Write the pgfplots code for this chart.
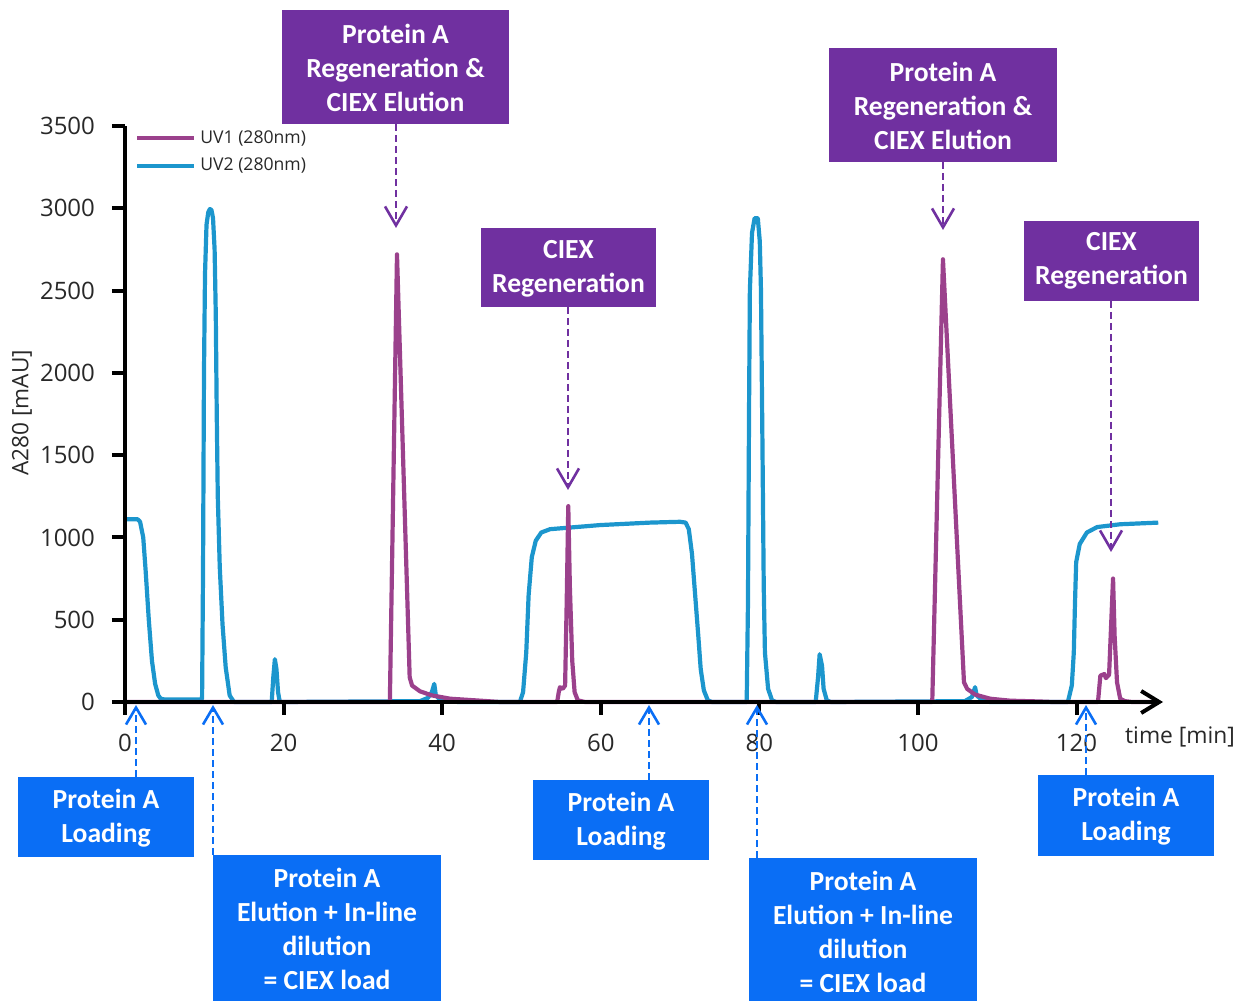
\documentclass[border=0pt]{standalone}
\usepackage{pgfplots}
\pgfplotsset{compat=1.18}
\usepackage{fontspec}
\setmainfont{Open Sans}
\newfontfamily\boxfont{Carlito}
\usetikzlibrary{arrows.meta}
\definecolor{uvone}{RGB}{155,65,140}
\definecolor{uvtwo}{RGB}{28,150,205}
\definecolor{pbox}{RGB}{112,48,160}
\definecolor{bbox}{RGB}{10,110,245}
\definecolor{txt}{RGB}{40,40,40}

\pgfplotstableread{
t v
0 1110
1.6 1110
1.9 1095
2.3 1000
2.6 800
3.0 500
3.4 250
3.8 110
4.2 40
4.5 20
5.0 15
9.6 15
9.72 20
9.84 800
9.96 2000
10.09 2600
10.28 2900
10.5 2975
10.7 2995
10.9 2990
11.1 2940
11.3 2750
11.45 2350
11.57 1750
11.7 1250
11.95 820
12.3 470
12.7 210
13.2 40
13.75 0
18.5 0
18.7 150
18.9 260
19.1 200
19.3 60
19.5 5
19.8 0
37.2 5
38.2 25
38.7 60
39.0 110
39.2 40
39.7 15
41 5
42 0
49.8 0
50.2 60
50.6 300
50.9 650
51.3 880
51.8 980
52.5 1030
53.6 1050
59.9 1075
66.2 1090
70 1095
70.7 1090
71.1 1050
71.5 900
71.9 650
72.3 400
72.6 200
73.0 70
73.5 10
74.0 0
78.4 0
78.56 600
78.7 1800
78.8 2500
79.07 2850
79.4 2940
79.8 2940
80.05 2800
80.2 2500
80.4 1500
80.55 700
80.7 300
81.1 80
81.6 10
82.1 0
87.1 0
87.4 150
87.6 290
87.9 220
88.1 80
88.5 10
89 0
105.9 5
106.8 30
107.2 90
107.4 40
108.1 10
109.1 0
118.9 0
119.4 100
119.65 300
119.8 600
119.95 850
120.4 960
121.3 1030
122.6 1063
125.5 1080
130.3 1090
}\uvtwo

\pgfplotstableread{
t v
0 0
33.4 0
34.3 2720
35.9 150
36.2 100
37.2 65
38.7 40
41.0 20
44.8 8
47.3 0
54.5 0
54.7 60
54.85 90
55.2 80
55.5 100
55.7 600
55.9 1190
56.1 700
56.4 250
56.7 60
57.1 10
58 0
101.8 0
103.15 2690
105.8 120
106.2 80
107.2 45
109.1 20
111.6 8
115.4 3
117 0
122.7 0
123.0 160
123.5 170
123.7 145
124.1 165
124.3 400
124.6 750
124.8 400
125.1 120
125.5 20
126.1 5
127 0
130.3 0
}\uvonetab

\begin{document}
\begin{tikzpicture}
\useasboundingbox (0,0) rectangle (625.5pt,500pt);
\begin{axis}[
  at={(62.5pt,149pt)}, anchor=south west,
  scale only axis, width=519pt, height=288pt,
  xmin=0, xmax=130.9, ymin=0, ymax=3500,
  axis x line=bottom, axis y line=left,
  axis line style={line width=2pt, black},
  x axis line style={-{Straight Barb[length=9pt,width=11pt]}},
  y axis line style={-},
  tick align=outside, major tick length=6.5pt,
  tick style={line width=2pt, black},
  xtick={0,20,...,120}, ytick={0,500,...,3500},
  /pgf/number format/assume math mode=true,
  /pgf/number format/1000 sep={},
  ticklabel style={font=\fontsize{12}{14}\selectfont, text=txt},
  xticklabel style={yshift=-6pt},
  yticklabel style={xshift=-5pt},
  clip=false, axis on top,
  xlabel={time [min]},
  xlabel style={at={(axis description cs:1.0164,-0.0608)}, anchor=center, font=\fontsize{11.4}{13}\selectfont, text=txt},
  ylabel={A280 [mAU]},
  ylabel style={at={(axis description cs:-0.0992,0.502)}, anchor=center, rotate=0, font=\fontsize{11.3}{13}\selectfont, text=txt},
  legend style={at={(axis description cs:0.0096,1.0)}, anchor=north west, draw=none, fill=none,
    font=\fontsize{8.8}{10}\selectfont, text=txt, row sep=2pt, inner sep=0pt},
  legend cell align=left,
  legend image code/.code={\draw[#1] (0pt,0pt) -- (28.5pt,0pt);},
]
\addlegendimage{uvone, line width=2pt}
\addlegendentry{UV1 (280nm)}
\addlegendimage{uvtwo, line width=2pt}
\addlegendentry{UV2 (280nm)}
\addplot[uvtwo, line width=2.1pt, line join=round, forget plot] table[x=t,y=v] {\uvtwo};
\addplot[uvone, line width=2.1pt, line join=round, forget plot] table[x=t,y=v] {\uvonetab};
\end{axis}

\begin{scope}[x=0.5pt,y=-0.5pt,yshift=500pt]
\tikzset{btxt/.style={text=white, font=\boxfont\bfseries\fontsize{13.8}{17}\selectfont, align=center, inner sep=0pt},
  parr/.style={pbox, line width=1.3pt, dash pattern=on 3.5pt off 2pt, -{Straight Barb[length=9.5pt,width=11pt]}},
  barr/.style={bbox, line width=1.3pt, dash pattern=on 3.5pt off 2pt, -{Straight Barb[length=8.5pt,width=10pt]}}}
% purple boxes
\fill[pbox] (282,10) rectangle (509,124);
\node[btxt] at (395.5,67.5) {Protein A\\Regeneration \&\\CIEX Elution};
\draw[parr] (396,124) -- (396,228);
\fill[pbox] (481,228) rectangle (656,307);
\node[btxt] at (568.5,268.5) {CIEX\\Regeneration};
\draw[parr] (568,307) -- (568,490);
\fill[pbox] (829,48) rectangle (1057,162);
\node[btxt] at (943,105.5) {Protein A\\Regeneration \&\\CIEX Elution};
\draw[parr] (943,162) -- (943,230);
\fill[pbox] (1024,221) rectangle (1199,301);
\node[btxt] at (1111.5,261) {CIEX\\Regeneration};
\draw[parr] (1111,301) -- (1111,552);
% blue boxes
\fill[bbox] (18,777) rectangle (194,857);
\node[btxt] at (106,818.5) {Protein A\\Loading};
\draw[barr] (136,777) -- (136,705);
\fill[bbox] (213,855) rectangle (441,1002);
\node[btxt] at (327,928.5) {Protein A\\Elution + In-line\\dilution\\= CIEX load};
\draw[barr] (213,855) -- (213,705);
\fill[bbox] (533,780) rectangle (709,860);
\node[btxt] at (621,821) {Protein A\\Loading};
\draw[barr] (649,780) -- (649,705);
\fill[bbox] (749,858) rectangle (977,1002);
\node[btxt] at (863,931.5) {Protein A\\Elution + In-line\\dilution\\= CIEX load};
\draw[barr] (757,858) -- (757,705);
\fill[bbox] (1038,775) rectangle (1214,856);
\node[btxt] at (1126,816.5) {Protein A\\Loading};
\draw[barr] (1086,775) -- (1086,705);
\end{scope}
\end{tikzpicture}
\end{document}
